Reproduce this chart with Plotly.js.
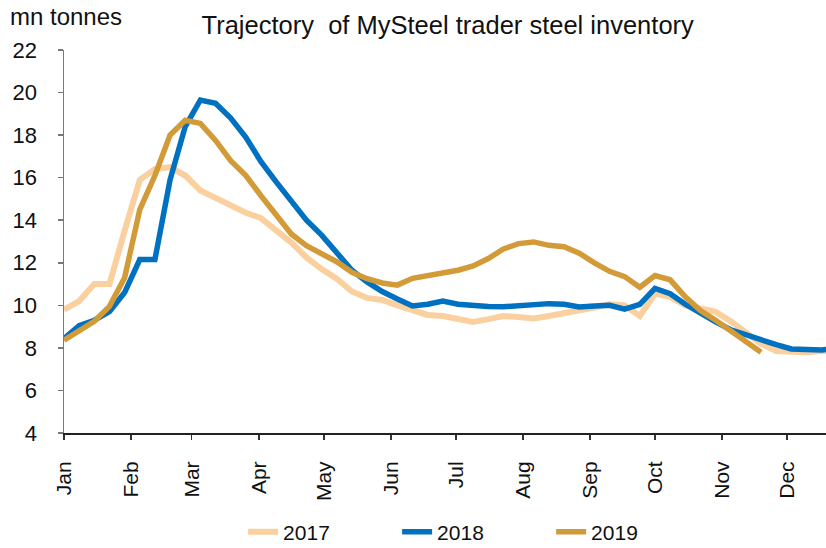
<!DOCTYPE html>
<html>
<head>
<meta charset="utf-8">
<script src="https://cdn.plot.ly/plotly-3.0.1.min.js"></script>
<style>html,body{margin:0;padding:0;background:#fff;}#chart{width:826px;height:548px;}</style>
</head>
<body>
<div id="chart"></div>
<script>
// Weekly observations (week index from 1 Jan), million tonnes
const seriesNames = ["2017", "2018", "2019"];
const v2017 = [9.8, 10.2, 11.0, 11.0, 13.5, 15.9, 16.4, 16.5, 16.1, 15.4, 15.05, 14.7, 14.35, 14.1, 13.5, 12.95, 12.25, 11.7, 11.25, 10.65, 10.35, 10.25, 10.0, 9.75, 9.55, 9.5, 9.35, 9.22, 9.35, 9.5, 9.45, 9.38, 9.5, 9.62, 9.72, 9.9, 10.05, 10.0, 9.5, 10.55, 10.4, 10.0, 9.85, 9.7, 9.25, 8.7, 8.2, 7.85, 7.8, 7.8, 7.85, 7.85];
const v2018 = [8.44, 9.05, 9.3, 9.7, 10.6, 12.15, 12.15, 15.9, 18.4, 19.65, 19.5, 18.8, 17.9, 16.75, 15.8, 14.95, 14.0, 13.3, 12.5, 11.65, 11.1, 10.65, 10.3, 9.97, 10.05, 10.2, 10.05, 9.98, 9.95, 9.93, 9.98, 10.02, 10.08, 10.05, 9.92, 9.97, 10.0, 9.82, 10.05, 10.8, 10.55, 10.05, 9.6, 9.22, 8.85, 8.6, 8.35, 8.15, 7.95, 7.95, 7.9, 8.0];
const v2019 = [8.36, 8.8, 9.25, 9.95, 11.3, 14.5, 16.1, 18.0, 18.7, 18.55, 17.75, 16.8, 16.1, 15.15, 14.25, 13.35, 12.8, 12.4, 12.05, 11.55, 11.25, 11.05, 10.95, 11.27, 11.4, 11.5, 11.65, 11.85, 12.2, 12.65, 12.9, 12.98, 12.82, 12.75, 12.45, 12.0, 11.6, 11.35, 10.85, 11.4, 11.2, 10.4, 9.75, 9.3, 8.8, 8.25, 7.8];
const monthLabels = ["Jan", "Feb", "Mar", "Apr", "May", "Jun", "Jul", "Aug", "Sep", "Oct", "Nov", "Dec"];
const monthDays = [31, 28, 31, 30, 31, 30, 31, 31, 30, 31, 30, 31];

const colors = ["#FAD09F", "#0070C0", "#D39A38"];
const widths = [6, 5.5, 5.5];
const values = [v2017, v2018, v2019];

// day-of-year positions for weekly points and month starts
const dayOf = arr => arr.map((_, i) => i * 7);
const monthStarts = [];
let acc = 0;
for (let m = 0; m < 12; m++) { monthStarts.push(acc); acc += monthDays[m]; }

const traces = values.map((v, k) => ({
  x: dayOf(v),
  y: v,
  type: "scatter",
  mode: "lines",
  name: seriesNames[k],
  line: {color: colors[k], width: widths[k]},
  hoverinfo: "skip"
}));

const font = "Liberation Sans, Arial, sans-serif";
const layout = {
  width: 826, height: 548,
  margin: {l: 64, r: 0, t: 50, b: 115},
  paper_bgcolor: "#fff", plot_bgcolor: "#fff",
  font: {family: font, size: 21, color: "#111"},
  title: {
    text: "Trajectory  of MySteel trader steel inventory",
    font: {family: font, size: 25.5, color: "#111"},
    xref: "container", x: 0.542, xanchor: "center",
    yref: "container", y: 1 - 25/548, yanchor: "middle"
  },
  xaxis: {
    range: [0, 352],
    tickmode: "array",
    tickvals: monthStarts,
    ticktext: monthLabels,
    tickangle: -90,
    ticks: "outside", ticklen: 5, tickwidth: 1.5, tickcolor: "#333",
    showline: true, linecolor: "#222", linewidth: 2,
    showgrid: false, zeroline: false,
    tickfont: {family: font, size: 21, color: "#111"},
    ticklabelstandoff: 13,
    fixedrange: true
  },
  yaxis: {
    range: [4, 22],
    tickmode: "linear", tick0: 4, dtick: 2,
    ticks: "outside", ticklen: 5, tickwidth: 1.5, tickcolor: "#777",
    showline: true, linecolor: "#7a7a7a", linewidth: 1.5,
    showgrid: false, zeroline: false,
    tickfont: {family: font, size: 22, color: "#111"},
    ticklabelstandoff: 16,
    fixedrange: true
  },
  showlegend: true,
  legend: {
    orientation: "h",
    xref: "container", x: 0.574, xanchor: "center",
    yref: "container", y: 1 - 532/548, yanchor: "middle",
    font: {family: font, size: 21, color: "#111"},
    itemwidth: 30,
    entrywidth: 109
  },
  annotations: [{
    text: "mn tonnes",
    xref: "paper", yref: "paper",
    x: (8 - 64) / 762, xanchor: "left",
    y: (433 - 16) / 383, yanchor: "middle",
    showarrow: false,
    font: {family: font, size: 24, color: "#111"}
  }]
};

Plotly.newPlot("chart", traces, layout, {displayModeBar: false, staticPlot: true});
</script>
</body>
</html>
